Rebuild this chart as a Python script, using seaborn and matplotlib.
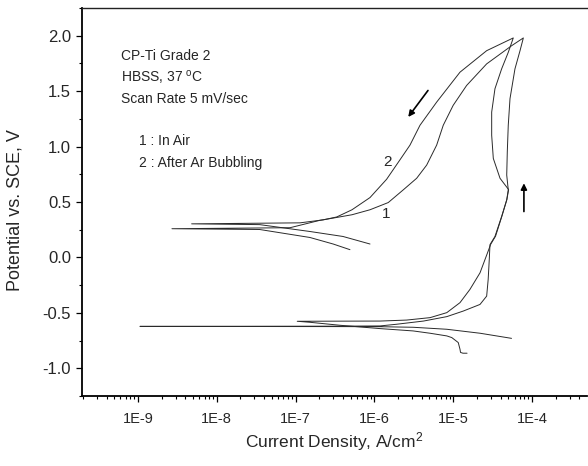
import numpy as np
import pandas as pd
import matplotlib
matplotlib.use("Agg")
import matplotlib.pyplot as plt
import seaborn as sns
from matplotlib.ticker import FixedLocator, FixedFormatter, LogLocator, NullFormatter, MultipleLocator, FormatStrFormatter

# ---- data (current density A/cm^2, potential V vs SCE), scan order ----
air_current = [5.5e-5, 2.2e-5, 8.3e-6, 3.1e-6, 1.2e-6, 4.0e-7, 1.06e-9, 4.0e-7, 1.18e-6,
               1.9e-6, 4.2e-6, 8.3e-6, 1.34e-5, 2.19e-5, 2.66e-5, 2.78e-5, 2.87e-5, 2.93e-5,
               3.39e-5, 4.12e-5, 4.78e-5, 5.0e-5,
               4.78e-5, 4.86e-5, 5.0e-5, 5.26e-5, 6.08e-5, 7.05e-5, 7.77e-5,
               5.52e-5, 2.66e-5, 1.48e-5, 1.0e-5, 7.48e-6, 6.17e-6, 4.61e-6, 3.44e-6, 2.33e-6,
               1.5e-6, 8.8e-7, 5.2e-7, 3.0e-7, 2.04e-7, 8.5e-8, 2.7e-9, 3.5e-8, 1.52e-7, 3.0e-7, 4.9e-7]
air_potential = [-0.73, -0.684, -0.648, -0.630, -0.625, -0.624, -0.622, -0.620, -0.618,
                 -0.603, -0.574, -0.534, -0.484, -0.424, -0.349, -0.199, -0.020, 0.115,
                 0.189, 0.369, 0.519, 0.609,
                 0.743, 0.952, 1.192, 1.432, 1.701, 1.865, 1.98,
                 1.910, 1.746, 1.551, 1.372, 1.192, 1.013, 0.833, 0.714, 0.610,
                 0.495, 0.430, 0.385, 0.355, 0.335, 0.268, 0.259, 0.252, 0.180, 0.121, 0.070]

argon_current = [1.50e-5, 1.33e-5, 1.24e-5, 1.22e-5, 1.16e-5, 9.6e-6, 8.3e-6, 5.1e-6, 3.1e-6,
                 1.18e-6, 3.66e-7, 1.52e-7, 1.05e-7, 3.0e-7, 1.18e-6,
                 2.57e-6, 5.1e-6, 8.3e-6, 1.22e-5, 1.63e-5, 2.19e-5, 3.0e-5,
                 3.45e-5, 4.15e-5, 4.8e-5, 5.05e-5,
                 3.93e-5, 3.23e-5, 3.08e-5, 3.08e-5, 3.39e-5, 4.12e-5, 5.0e-5, 5.79e-5,
                 2.66e-5, 1.22e-5, 6.17e-6, 3.79e-6, 2.83e-6, 2.11e-6, 1.43e-6, 8.8e-7, 5.2e-7,
                 3.33e-7, 2.25e-7, 1.14e-7, 4.8e-9, 3.5e-8, 1.52e-7, 4.0e-7, 8.8e-7]
argon_potential = [-0.864, -0.864, -0.857, -0.828, -0.768, -0.723, -0.708, -0.684, -0.663,
                   -0.642, -0.612, -0.585, -0.576, -0.575, -0.574,
                   -0.565, -0.543, -0.498, -0.408, -0.289, -0.139, 0.120,
                   0.192, 0.372, 0.522, 0.612,
                   0.714, 0.893, 1.102, 1.311, 1.522, 1.701, 1.850, 1.98,
                   1.865, 1.671, 1.401, 1.192, 1.013, 0.880, 0.705, 0.540, 0.430,
                   0.365, 0.339, 0.312, 0.303, 0.296, 0.234, 0.189, 0.121]

x_tick_values = [1e-9, 1e-8, 1e-7, 1e-6, 1e-5, 1e-4]
x_tick_labels = ["1E-9", "1E-8", "1E-7", "1E-6", "1E-5", "1E-4"]

# arrows (scan direction)
reverse_arrow = {"start": (4.79e-6, 1.506), "end": (2.69e-6, 1.267)}
forward_arrow = {"start": (7.9e-5, 0.414), "end": (7.9e-5, 0.669)}

df = pd.concat([
    pd.DataFrame({"current": air_current, "potential": air_potential, "curve": "1",
                  "step": np.arange(len(air_current))}),
    pd.DataFrame({"current": argon_current, "potential": argon_potential, "curve": "2",
                  "step": np.arange(len(argon_current))}),
], ignore_index=True)

sns.set_style("ticks")
plt.rcParams["font.family"] = ["Liberation Sans", "DejaVu Sans"]
plt.rcParams["axes.unicode_minus"] = False
plt.rcParams["mathtext.fontset"] = "custom"
plt.rcParams["mathtext.rm"] = "Liberation Sans"
plt.rcParams["mathtext.it"] = "Liberation Sans:italic"

fig = plt.figure(figsize=(5.88, 4.66), dpi=100)
ax = fig.add_axes([82 / 588, 1 - 396 / 466, 505 / 588, 388 / 466])

sns.lineplot(data=df, x="current", y="potential", hue="curve", sort=False, estimator=None,
             palette={"1": "#2a2a2a", "2": "#2a2a2a"}, linewidth=0.7, legend=False, ax=ax)

ax.set_xscale("log")
ax.set_xlim(1.95e-10, 4.99e-4)
ax.set_ylim(-1.25, 2.25)

for s in ["left", "bottom"]:
    ax.spines[s].set_linewidth(1.3)
    ax.spines[s].set_color("black")
ax.spines["top"].set_linewidth(1.0)
ax.spines["top"].set_color("#222222")
ax.spines["right"].set_visible(False)

ax.xaxis.set_major_locator(FixedLocator(x_tick_values))
ax.xaxis.set_major_formatter(FixedFormatter(x_tick_labels))
ax.xaxis.set_minor_locator(LogLocator(base=10, subs=np.arange(2, 10), numticks=30))
ax.xaxis.set_minor_formatter(NullFormatter())
ax.yaxis.set_major_locator(MultipleLocator(0.5))
ax.yaxis.set_minor_locator(MultipleLocator(0.25))
ax.yaxis.set_major_formatter(FormatStrFormatter("%.1f"))

ax.tick_params(axis="both", which="major", direction="out", length=4.3, width=0.9, color="black")
ax.tick_params(axis="both", which="minor", direction="out", length=2.2, width=0.8, color="black")
ax.tick_params(axis="x", which="major", labelsize=10.5, pad=7)
ax.tick_params(axis="y", which="major", labelsize=12, pad=3.5)
ax.tick_params(top=False, right=False, which="both")

ax.set_xlabel("Current Density, A/cm$^2$", fontsize=12.5)
ax.set_ylabel("Potential vs. SCE, V", fontsize=13)
ax.xaxis.set_label_coords(0.5, -0.088)
ax.yaxis.set_label_coords(-0.115, 0.479)

tx = (121 - 82) / 505
def fy(py):
    return (396 - py) / 388
ax.text(tx, fy(60), "CP-Ti Grade 2", transform=ax.transAxes, fontsize=10, va="baseline")
ax.text(tx, fy(82), "HBSS, 37 $^{\\rm o}$C", transform=ax.transAxes, fontsize=10, va="baseline")
ax.text(tx, fy(103), "Scan Rate 5 mV/sec", transform=ax.transAxes, fontsize=10, va="baseline")
tx2 = (139 - 82) / 505
ax.text(tx2, fy(145), "1 : In Air", transform=ax.transAxes, fontsize=10, va="baseline")
ax.text(tx2, fy(167), "2 : After Ar Bubbling", transform=ax.transAxes, fontsize=10, va="baseline")

ax.text((387 - 82) / 505, fy(162), "2", transform=ax.transAxes, fontsize=11, ha="center", va="center")
ax.text((386 - 82) / 505, fy(214), "1", transform=ax.transAxes, fontsize=11, ha="center", va="center")

for arr in (reverse_arrow, forward_arrow):
    ax.annotate("", xy=arr["end"], xytext=arr["start"],
                arrowprops=dict(arrowstyle="-|>", color="black", lw=1.2, mutation_scale=9,
                                shrinkA=0, shrinkB=0))

fig.savefig("out.png", dpi=100)
